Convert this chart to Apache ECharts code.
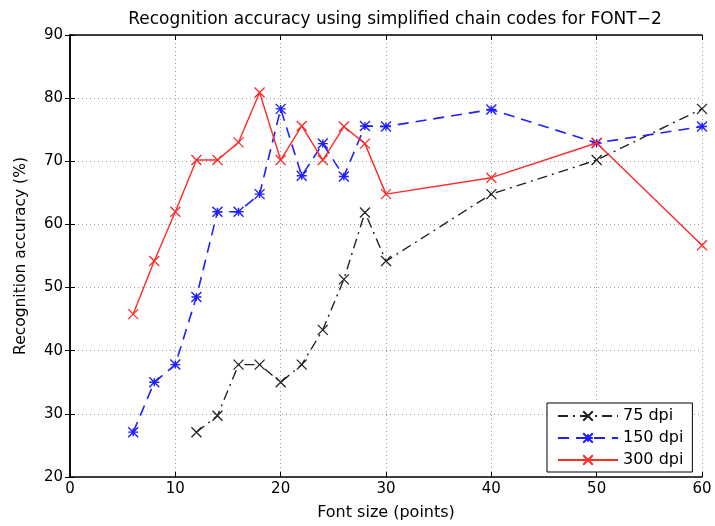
<!DOCTYPE html>
<html>
<head>
<meta charset="utf-8">
<script src="https://cdn.jsdelivr.net/npm/echarts@6/dist/echarts.min.js"></script>
<style>
  html, body { margin: 0; padding: 0; background: #fff; }
  #chart { width: 715px; height: 526px; }
</style>
</head>
<body>
<div id="chart"></div>
<script>
  // values
  var seriesNames = ['75 dpi', '150 dpi', '300 dpi'];
  var fontSizes75 = [12, 14, 16, 18, 20, 22, 24, 26, 28, 30, 40, 50, 60];
  var acc75 = [27.1, 29.7, 37.8, 37.8, 35.0, 37.8, 43.3, 51.3, 61.9, 54.2, 64.8, 70.2, 78.3];
  var fontSizes = [6, 8, 10, 12, 14, 16, 18, 20, 22, 24, 26, 28, 30, 40, 50, 60];
  var acc150 = [27.1, 35.0, 37.8, 48.5, 62.0, 62.0, 64.8, 78.3, 67.7, 72.8, 67.6, 75.6, 75.5, 78.2, 72.9, 75.5];
  var acc300 = [45.8, 54.2, 62.0, 70.2, 70.2, 73.0, 80.9, 70.2, 75.6, 70.2, 75.5, 72.8, 64.8, 67.4, 72.9, 56.7];

  function pairs(xs, ys) {
    return xs.map(function (x, i) { return [x, ys[i]]; });
  }

  var crossPath = 'path://M0,0L10,10M10,0L0,10';
  var starPath = 'path://M0,0L10,10M10,0L0,10M0,5L10,5M5,1L5,9';
  var font = 'DejaVu Sans, sans-serif';

  var chart = echarts.init(document.getElementById('chart'));
  chart.setOption({
    animation: false,
    title: {
      text: 'Recognition accuracy using simplified chain codes for FONT\u22122',
      left: 390,
      textAlign: 'center',
      top: 6,
      textStyle: { fontFamily: font, fontSize: 17, fontWeight: 'normal', color: '#000' }
    },
    legend: {
      data: seriesNames,
      orient: 'vertical',
      left: 547,
      top: 403,
      itemWidth: 60,
      itemHeight: 12,
      itemGap: 4,
      padding: [4, 9, 3, 10],
      borderColor: '#000',
      borderWidth: 1,
      backgroundColor: '#fff',
      textStyle: { fontFamily: font, fontSize: 16, lineHeight: 18, color: '#000' }
    },
    grid: { left: 70, right: 13, top: 35, bottom: 46 },
    xAxis: [{
      type: 'value',
      min: 0, max: 60, interval: 10,
      name: 'Font size (points)',
      nameLocation: 'middle',
      nameGap: 28,
      nameTextStyle: { fontFamily: font, fontSize: 16, color: '#000' },
      axisLine: { lineStyle: { color: '#000', width: 1.5 } },
      axisTick: { inside: true, length: 5, lineStyle: { color: '#000' } },
      axisLabel: { fontFamily: font, fontSize: 15, color: '#000', margin: 5 },
      splitLine: { show: true, lineStyle: { color: '#999', type: [1, 3] } }
    }, {
      type: 'value',
      position: 'top',
      min: 0, max: 60, interval: 10,
      axisLine: { lineStyle: { color: '#000', width: 1.5 } },
      axisTick: { inside: true, length: 5, lineStyle: { color: '#000' } },
      axisLabel: { show: false },
      splitLine: { show: false }
    }],
    yAxis: [{
      type: 'value',
      min: 20, max: 90, interval: 10,
      name: 'Recognition accuracy (%)',
      nameLocation: 'middle',
      nameGap: 41,
      nameTextStyle: { fontFamily: font, fontSize: 15.5, color: '#000' },
      axisLine: { show: true, lineStyle: { color: '#000', width: 1.5 } },
      axisTick: { show: true, inside: true, length: 5, lineStyle: { color: '#000' } },
      axisLabel: { fontFamily: font, fontSize: 15, color: '#000', margin: 7 },
      splitLine: { show: true, lineStyle: { color: '#999', type: [1, 3] } }
    }, {
      type: 'value',
      position: 'right',
      min: 20, max: 90, interval: 10,
      axisLine: { show: true, lineStyle: { color: '#000', width: 1.5 } },
      axisTick: { show: true, inside: true, length: 5, lineStyle: { color: '#000' } },
      axisLabel: { show: false },
      splitLine: { show: false }
    }],
    series: [{
      name: seriesNames[0],
      type: 'line',
      data: pairs(fontSizes75, acc75),
      symbol: crossPath,
      symbolSize: 10,
      color: '#222',
      itemStyle: { color: '#222', borderColor: '#222', borderWidth: 1.3 },
      lineStyle: { color: '#222', width: 1.4, type: [10, 5, 2, 5] },
      z: 3
    }, {
      name: seriesNames[1],
      type: 'line',
      data: pairs(fontSizes, acc150),
      symbol: starPath,
      symbolSize: 10,
      color: '#1f1fff',
      itemStyle: { color: '#1f1fff', borderColor: '#1f1fff', borderWidth: 1.4 },
      lineStyle: { color: '#1f1fff', width: 1.6, type: [11, 7] },
      z: 4
    }, {
      name: seriesNames[2],
      type: 'line',
      data: pairs(fontSizes, acc300),
      symbol: crossPath,
      symbolSize: 10,
      color: '#ff2a2a',
      itemStyle: { color: '#ff2a2a', borderColor: '#ff2a2a', borderWidth: 1.3 },
      lineStyle: { color: '#ff2a2a', width: 1.4 },
      z: 5
    }]
  });
</script>
</body>
</html>
